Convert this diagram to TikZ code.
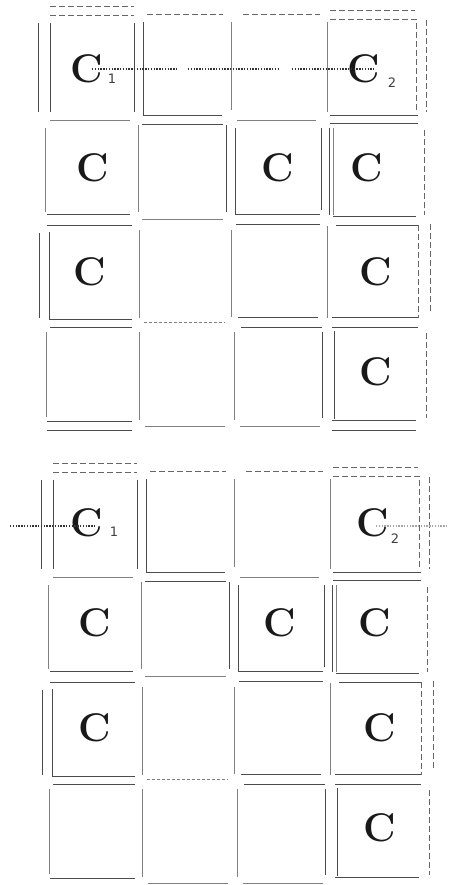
\documentclass[tikz,border=0pt]{standalone}
\usepackage{fontspec}
\newfontfamily\cfont{DejaVu Sans}
\tikzset{
  sl/.style={line width=0.85pt, black!70},
  tn/.style={line width=0.55pt, black!50},
  ds/.style={line width=0.8pt, black!60, dash pattern=on 6pt off 3pt},
  dt/.style={line width=1.6pt, black!80, dash pattern=on 1.4pt off 1.4pt},
  cl/.style={font=\bfseries\fontsize{40}{40}\selectfont, inner sep=0pt, text=black!90},
  sb/.style={font=\cfont\fontsize{13}{13}\selectfont, inner sep=0pt, text=black!75}
}
\newcommand\gridlines{%
% row 1
\draw[ds] (50,6)--(134,6); \draw[ds] (50,15)--(134,15);
\draw[ds] (147,14)--(223,14);
\draw[ds] (243,14)--(320,14);
\draw[ds] (330,10)--(415,10); \draw[ds] (330,19)--(416,19)--(416,112);
\draw[ds] (426,20)--(426,112);
\draw[sl] (38,23)--(38,112); \draw[sl] (50,23)--(50,112);
\draw[sl] (134,23)--(134,112);
\draw[tn] (50,120)--(130,120);
\draw[sl] (143,22)--(143,115)--(222,115);
\draw[tn] (231,22)--(231,110);
\draw[tn] (327,22)--(327,112);
\draw[sl] (330,115)--(418,115);
% row 2
\draw[tn] (45,128)--(45,212);
\draw[sl] (47,214)--(130,214);
\draw[sl] (142,124)--(223,124);
\draw[tn] (138,125)--(138,212);
\draw[sl] (226,125)--(226,212);
\draw[tn] (142,219)--(223,219);
\draw[tn] (237,120)--(316,120);
\draw[sl] (235,128)--(235,214)--(320,214);
\draw[sl] (321,128)--(321,210);
\draw[sl] (330,123)--(418,123);
\draw[sl] (329,128)--(329,215); \draw[tn] (333,128)--(333,215);
\draw[ds] (424,130)--(424,215);
\draw[sl] (333,216)--(416,216);
% row 3
\draw[sl] (47,225)--(132,225);
\draw[sl] (39,233)--(39,318);
\draw[sl] (49,232)--(49,319)--(132,319);
\draw[tn] (139,230)--(139,318);
\draw[tn, densely dashed] (144,322)--(225,322);
\draw[sl] (236,224)--(320,224);
\draw[tn] (231,230)--(231,317);
\draw[sl] (238,317)--(318,317);
\draw[sl] (336,225)--(418,225);
\draw[ds] (418,225)--(418,318);
\draw[ds] (430,224)--(430,313);
\draw[tn] (327,226)--(327,318);
\draw[sl] (332,317)--(418,317);
% row 4
\draw[sl] (50,327)--(132,327);
\draw[tn] (46,332)--(46,417);
\draw[sl] (47,421)--(132,421); \draw[sl] (47,430)--(132,430);
\draw[tn] (139,332)--(139,420);
\draw[tn] (145,426)--(225,426);
\draw[sl] (241,327)--(322,327);
\draw[tn] (234,332)--(234,420);
\draw[sl] (322,332)--(322,418);
\draw[tn] (240,426)--(320,426);
\draw[sl] (332,327)--(418,327);
\draw[sl] (334,331)--(334,419);
\draw[ds] (426,333)--(426,418);
\draw[sl] (332,420)--(416,420); \draw[sl] (332,430)--(416,430);
}
\begin{document}
\begin{tikzpicture}[x=1pt,y=-1pt]
\useasboundingbox (0,0) rectangle (448,885);
\fill[white] (0,0) rectangle (448,885);
% top grid
\begin{scope}
\gridlines
\end{scope}
% bottom grid
\begin{scope}[shift={(3,457)}]
\gridlines
\end{scope}
% top labels
\node[cl] (tc1) at (87,69) {C};
\node[sb] (ts1) at (112,79) {1};
\node[cl] (tc2) at (364,69) {C};
\node[sb] (ts2) at (392,83) {2};
\node[cl] (t21) at (93,168) {C};
\node[cl] (t23) at (278,168) {C};
\node[cl] (t24) at (367,168) {C};
\node[cl] (t31) at (90,272) {C};
\node[cl] (t34) at (376,272) {C};
\node[cl] (t44) at (376,372) {C};
% bottom labels
\node[cl] (bc1) at (87,523) {C};
\node[sb] (bs1) at (114,532) {1};
\node[cl] (bc2) at (373,523) {C};
\node[sb] (bs2) at (395,539) {2};
\node[cl] (b21) at (95,623) {C};
\node[cl] (b23) at (280,623) {C};
\node[cl] (b24) at (375,623) {C};
\node[cl] (b31) at (95,728) {C};
\node[cl] (b34) at (380,728) {C};
\node[cl] (b44) at (380,828) {C};
% dotted links, top
\coordinate (ga) at (178,69);
\coordinate (gb) at (188,69);
\coordinate (gc) at (278,69);
\coordinate (gd) at (292,69);
\draw[dt] ([xshift=5pt]tc1.center) -- (ga);
\draw[dt] (gb) -- (gc);
\draw[dt] (gd) -- ([xshift=10pt]tc2.center);
% dotted links, bottom
\coordinate (la) at (10,526);
\coordinate (lb) at (448,526);
\draw[dt] (la) -- ([xshift=8pt,yshift=-3pt]bc1.center);
\draw[dt, black!35] ([xshift=3pt,yshift=-3pt]bc2.center) -- (lb);
\end{tikzpicture}
\end{document}
